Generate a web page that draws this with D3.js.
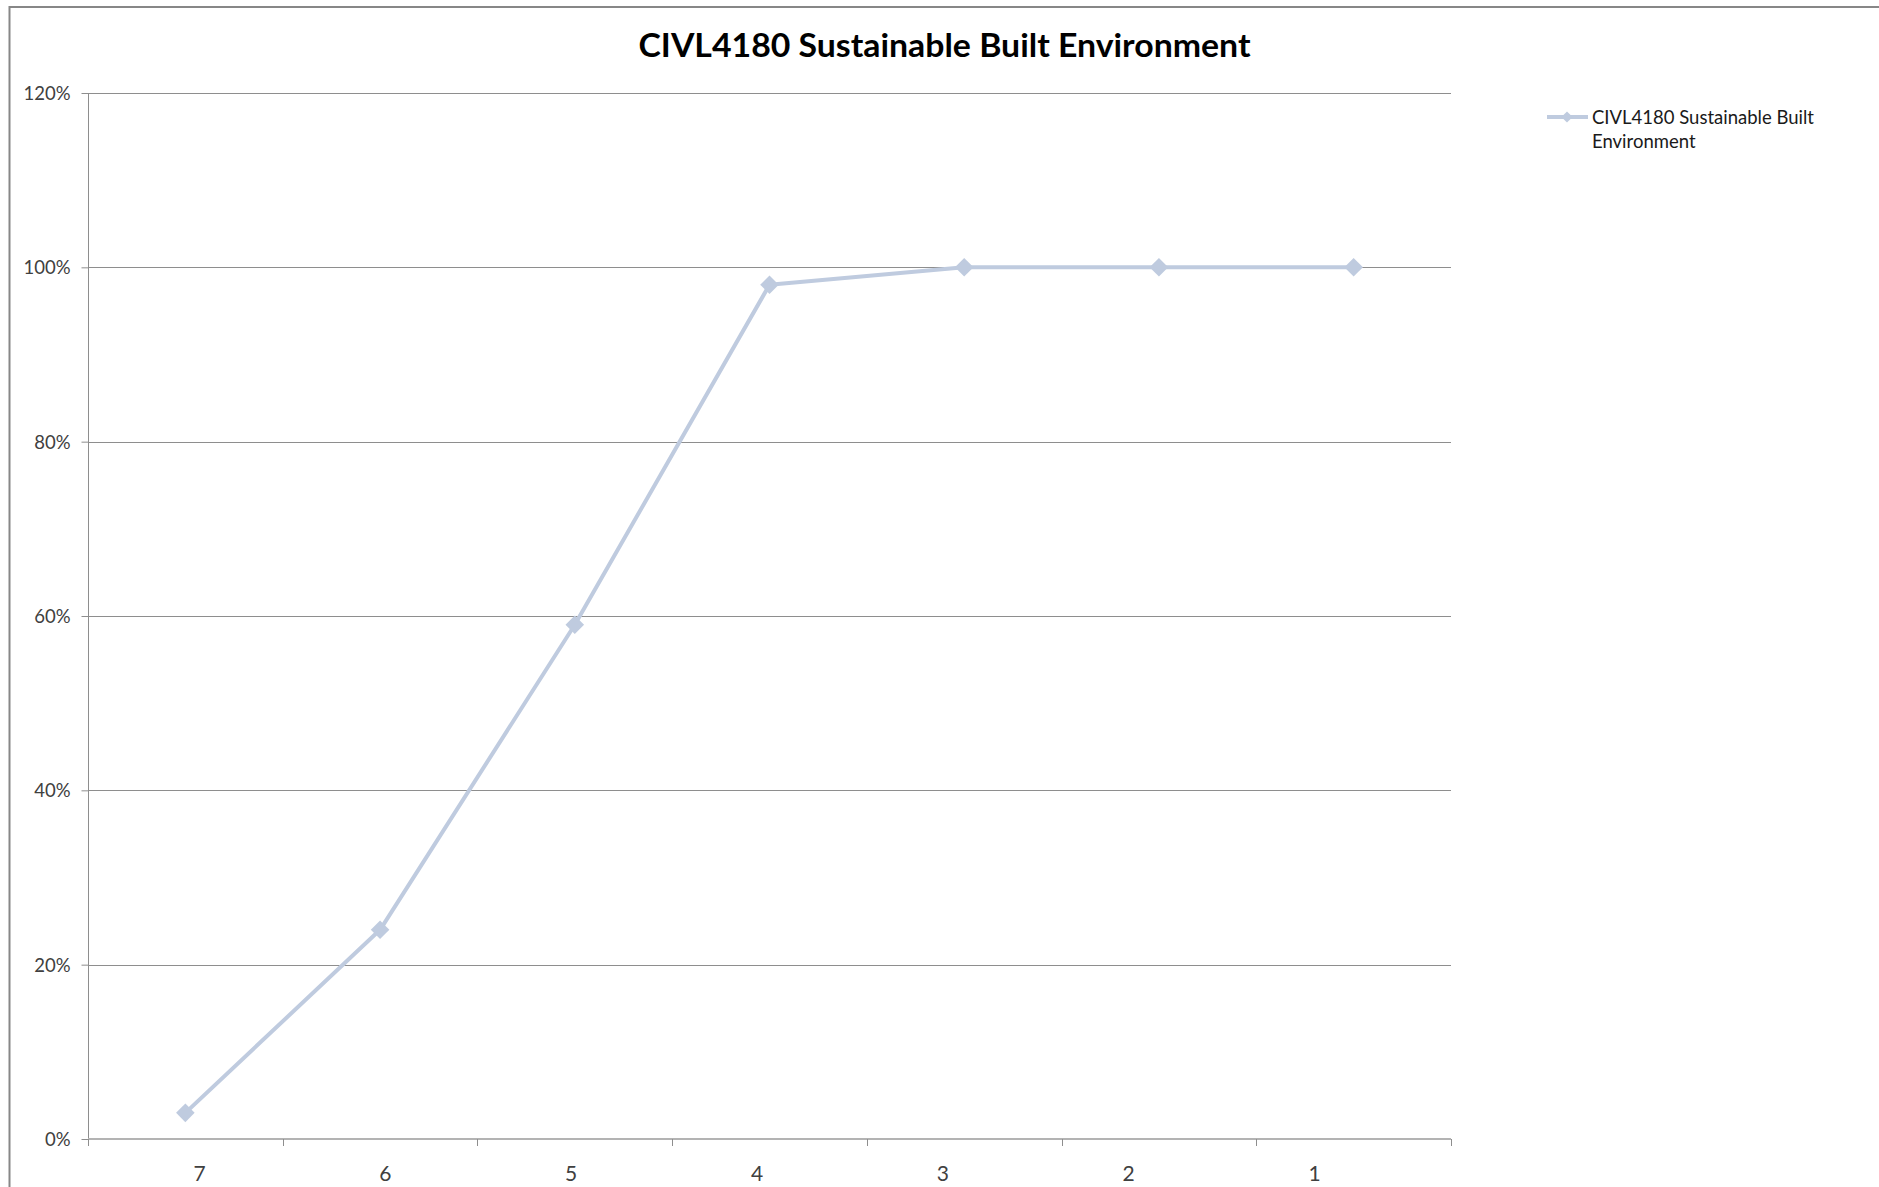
<!DOCTYPE html>
<html>
<head>
<meta charset="utf-8">
<script src="https://cdn.jsdelivr.net/npm/d3@7/dist/d3.min.js"></script>
<style>
  html, body { margin: 0; padding: 0; background: #fff; }
  svg { display: block; }
</style>
</head>
<body>
<svg id="chart" width="1879" height="1187"></svg>
<script>
const chartTitle = "CIVL4180 Sustainable Built Environment";
const seriesName = "CIVL4180 Sustainable Built Environment";
const categories = ["7", "6", "5", "4", "3", "2", "1"];
const values = [0.03, 0.24, 0.59, 0.98, 1.00, 1.00, 1.00];
const yTicks = [0, 0.2, 0.4, 0.6, 0.8, 1.0, 1.2];

const W = 1879, H = 1187;
const plot = { left: 88, right: 1451, top: 93, bottom: 1139 };
const lineColor = "#bfcbdf";
const font = "Lato, 'Open Sans', sans-serif";

const svg = d3.select("#chart");

// outer chart border (extends beyond visible area on right/bottom)
svg.append("rect")
  .attr("x", 9.5).attr("y", 7)
  .attr("width", W + 20).attr("height", H + 20)
  .attr("fill", "#fff")
  .attr("stroke", "#878787").attr("stroke-width", 2);

const x = d3.scaleBand().domain(categories).range([plot.left, plot.right]).padding(0);
const y = d3.scaleLinear().domain([0, 1.2]).range([plot.bottom, plot.top]);
// label positions of the category axis (labels are drawn slightly compressed in the original)
const xLabel = d3.scalePoint().domain(categories).range([199, 1314]);

// gridlines
svg.append("g")
  .selectAll("line")
  .data(yTicks.filter(d => d > 0))
  .join("line")
  .attr("x1", plot.left).attr("x2", plot.right)
  .attr("y1", d => Math.round(y(d)) + 0.5).attr("y2", d => Math.round(y(d)) + 0.5)
  .attr("stroke", "#8e8e8e").attr("stroke-width", 1);

// y axis
const yAxis = d3.axisLeft(y).tickValues(yTicks)
  .tickFormat(d => Math.round(d * 100) + "%")
  .tickSize(7).tickPadding(11);
const gy = svg.append("g").attr("transform", `translate(${plot.left + 0.5},0)`).call(yAxis);
gy.select(".domain").attr("stroke", "#8e8e8e").attr("d", `M0,${plot.top}V${plot.bottom + 6}`);
gy.selectAll(".tick line").attr("stroke", "#8e8e8e");
gy.selectAll(".tick text")
  .attr("font-family", font).attr("font-size", 18.5).attr("fill", "#404040")
  .attr("dy", "0.35em");

// x axis (ticks at category boundaries)
const gx = svg.append("g").attr("transform", `translate(0,${plot.bottom})`);
gx.append("line")
  .attr("x1", plot.left).attr("x2", plot.right)
  .attr("y1", 0).attr("y2", 0)
  .attr("stroke", "#b3b3b3").attr("stroke-width", 2);
const boundaries = categories.map(c => x(c)).concat([x(categories[categories.length - 1]) + x.bandwidth()]);
gx.selectAll("line.tick")
  .data(boundaries)
  .join("line").attr("class", "tick")
  .attr("x1", d => Math.round(d) + 0.5).attr("x2", d => Math.round(d) + 0.5)
  .attr("y1", 0).attr("y2", 7)
  .attr("stroke", "#8e8e8e").attr("stroke-width", 1);
const xAxis = d3.axisBottom(xLabel).tickSize(0).tickPadding(0);
const gxl = svg.append("g").attr("transform", `translate(0,${plot.bottom})`).call(xAxis);
gxl.select(".domain").remove();
gxl.selectAll(".tick text")
  .attr("font-family", font).attr("font-size", 21).attr("fill", "#404040")
  .attr("y", 42).attr("dy", 0);

// series line
const pts = categories.map((c, i) => ({ c, v: values[i] }));
const line = d3.line().x(d => x(d.c) + x.bandwidth() / 2).y(d => y(d.v));
svg.append("path")
  .datum(pts)
  .attr("d", line)
  .attr("fill", "none")
  .attr("stroke", lineColor).attr("stroke-width", 4)
  .attr("stroke-linejoin", "round");

// diamond markers
const diamond = d3.symbol().type(d3.symbolDiamond2).size(220);
svg.append("g")
  .selectAll("path")
  .data(pts)
  .join("path")
  .attr("d", diamond)
  .attr("transform", d => `translate(${x(d.c) + x.bandwidth() / 2},${y(d.v)})`)
  .attr("fill", lineColor);

// title
svg.append("text")
  .attr("x", 944.5).attr("y", 57)
  .attr("text-anchor", "middle")
  .attr("font-family", font).attr("font-weight", "bold").attr("font-size", 32)
  .attr("textLength", 612).attr("lengthAdjust", "spacingAndGlyphs")
  .attr("fill", "#000")
  .text(chartTitle);

// legend
const lg = svg.append("g").attr("transform", "translate(1547,117)");
lg.append("line").attr("x1", 0).attr("x2", 41).attr("y1", 0).attr("y2", 0)
  .attr("stroke", lineColor).attr("stroke-width", 4);
lg.append("path").attr("d", d3.symbol().type(d3.symbolDiamond2).size(80))
  .attr("transform", "translate(20,0)").attr("fill", lineColor);
const words = seriesName.split(" ");
const line1 = words.slice(0, 3).join(" ");
const line2 = words.slice(3).join(" ");
const lt = lg.append("text")
  .attr("font-family", font).attr("font-size", 18.5).attr("fill", "#1a1a1a");
lt.append("tspan").attr("x", 45).attr("y", 7).text(line1);
lt.append("tspan").attr("x", 45).attr("y", 31).text(line2);
</script>
</body>
</html>
